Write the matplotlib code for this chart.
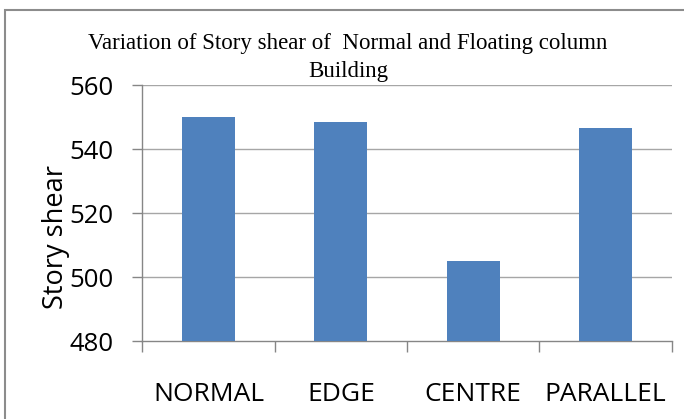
import matplotlib
matplotlib.use("Agg")
import matplotlib.pyplot as plt
from matplotlib.patches import Rectangle
import numpy as np

categories = ["NORMAL", "EDGE", "CENTRE", "PARALLEL"]
story_shear = [550.0, 548.6, 505.0, 546.7]
y_ticks = [480, 500, 520, 540, 560]
title_lines = ["Variation of Story shear of  Normal and Floating column", "Building"]
y_label = "Story shear"

sans = ["Open Sans", "DejaVu Sans"]
serif = ["Liberation Serif", "DejaVu Serif"]

fig = plt.figure(figsize=(6.84, 4.19), dpi=100)
W, H = 684, 419
ax = fig.add_axes([142.3 / W, 1 - 341.3 / H, (671.7 - 142.3) / W, (341.3 - 85.3) / H])

x = np.arange(len(categories))
ax.bar(x, story_shear, width=0.4, color="#4F81BD", zorder=3)

ax.set_xlim(-0.5, len(categories) - 0.5)
ax.set_ylim(y_ticks[0], y_ticks[-1])
ax.set_yticks(y_ticks)
ax.set_yticklabels([str(v) for v in y_ticks], fontfamily=sans, fontsize=18.5)
for t in y_ticks[1:]:
    ax.axhline(t, color="#A6A6A6", lw=1.0, zorder=1)

ax.set_xticks(x)
ax.set_xticklabels(categories, fontfamily=sans, fontsize=19)
ax.set_xticks(np.arange(-0.5, len(categories)), minor=True)
ax.tick_params(axis="x", which="major", length=0, pad=29)
ax.tick_params(axis="x", which="minor", length=8, color="#868686", width=1)
ax.tick_params(axis="y", length=7, color="#868686", width=1, pad=14)

for s in ["top", "right"]:
    ax.spines[s].set_visible(False)
for s in ["left", "bottom"]:
    ax.spines[s].set_color("#868686")
    ax.spines[s].set_linewidth(1)

ax.set_ylabel(y_label, fontfamily=sans, fontsize=19.5)
ax.yaxis.set_label_coords((70 - 142.3) / (671.7 - 142.3), (341.3 - 237) / 256)

for line, yc in zip(title_lines, [43, 71]):
    fig.text(348 / W, 1 - yc / H, line, ha="center", va="center",
             fontfamily=serif, fontsize=16.5)

fig.patches.append(Rectangle((5 / W, -0.1), 1.2, 1.1 - 10 / H, transform=fig.transFigure,
                             fill=False, edgecolor="#8C8C8C", lw=1.5))

fig.savefig("out.png", dpi=100)
